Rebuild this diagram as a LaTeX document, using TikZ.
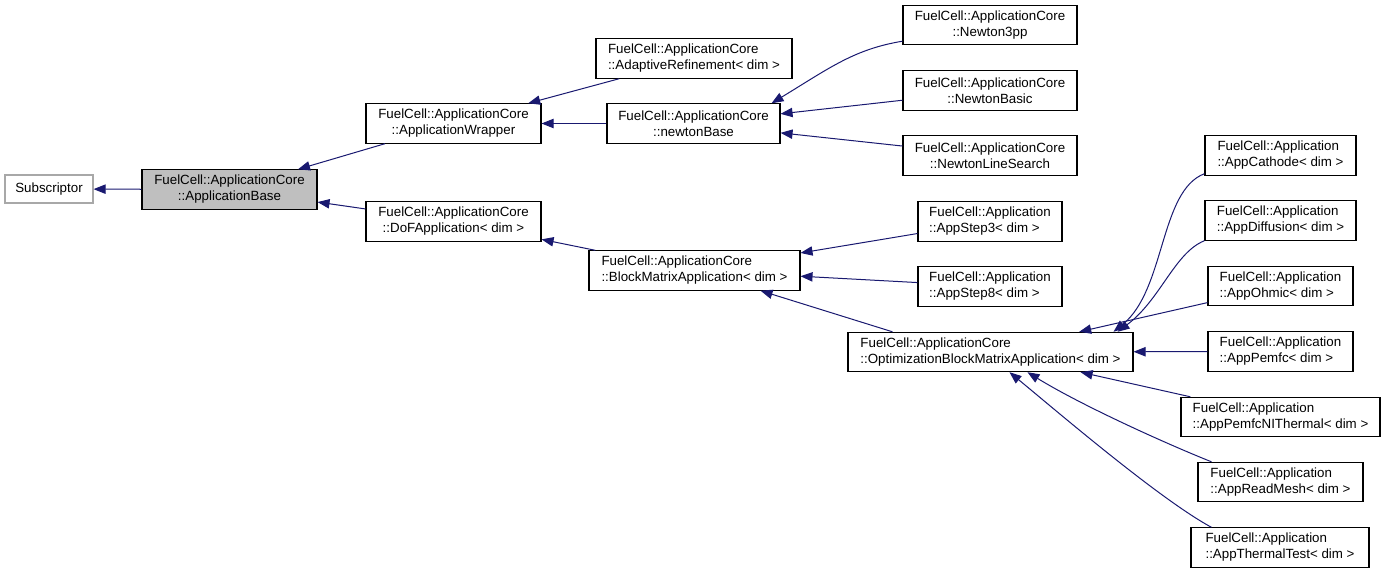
\documentclass[tikz,border=0pt]{standalone}
\usepackage{fontspec}
\setmainfont{Liberation Sans}
\usepackage{xcolor}
\usetikzlibrary{arrows.meta, calc}
\definecolor{freccia}{HTML}{191970}
\definecolor{grigio}{HTML}{BFBFBF}
\definecolor{bordo}{HTML}{A8A8A8}

\begin{document}
\begin{tikzpicture}[x=0.75pt, y=-0.75pt,
    classe/.style = {draw, line width=0.8pt, minimum height=29.5pt, inner sep=2pt, align=center, font=\fontsize{10}{12}\selectfont},
    eredita/.style = {draw=freccia, line width=0.75pt, -{Triangle[length=9pt, width=7pt]}}]
    \useasboundingbox (0,0) rectangle (1387,573);
    % Nodi
    \node[classe, draw=bordo, minimum width=66pt, minimum height=21pt] (subs) at (49,189) {Subscriptor};
    \node[classe, fill=grigio, minimum width=131.25pt] (base) at (229.5,189.5) {FuelCell::ApplicationCore\\::ApplicationBase};
    \node[classe, minimum width=131.25pt] (wrap) at (453.5,123.5) {FuelCell::ApplicationCore\\::ApplicationWrapper};
    \node[classe, minimum width=131.25pt] (dof) at (453.5,221.5) {FuelCell::ApplicationCore\\::DoFApplication< dim >};
    \node[classe, align=left, minimum width=147pt] (adapt) at (694,58.5) {FuelCell::ApplicationCore\\::AdaptiveRefinement< dim >};
    \node[classe, minimum width=129.75pt] (nbase) at (693.5,123.5) {FuelCell::ApplicationCore\\::newtonBase};
    \node[classe, minimum width=130.5pt] (n3pp) at (990,25) {FuelCell::ApplicationCore\\::Newton3pp};
    \node[classe, minimum width=130.5pt] (nbasic) at (990,90.5) {FuelCell::ApplicationCore\\::NewtonBasic};
    \node[classe, minimum width=130.5pt] (nls) at (990,155.5) {FuelCell::ApplicationCore\\::NewtonLineSearch};
    \node[classe, align=left, minimum width=158.25pt] (block) at (694.5,270.5) {FuelCell::ApplicationCore\\::BlockMatrixApplication< dim >};
    \node[classe, align=left, minimum width=108pt] (step3) at (990,221.5) {FuelCell::Application\\::AppStep3< dim >};
    \node[classe, align=left, minimum width=108pt] (step8) at (990,286.5) {FuelCell::Application\\::AppStep8< dim >};
    \node[classe, align=left, minimum width=213.75pt] (opt) at (990.5,352) {FuelCell::ApplicationCore\\::OptimizationBlockMatrixApplication< dim >};
    \node[classe, align=left, minimum width=113.25pt] (cathode) at (1280.5,155.5) {FuelCell::Application\\::AppCathode< dim >};
    \node[classe, align=left, minimum width=113.25pt] (diff) at (1280.5,220.5) {FuelCell::Application\\::AppDiffusion< dim >};
    \node[classe, align=left, minimum width=108.75pt] (ohmic) at (1280.5,286) {FuelCell::Application\\::AppOhmic< dim >};
    \node[classe, align=left, minimum width=108.75pt] (pemfc) at (1280.5,351.5) {FuelCell::Application\\::AppPemfc< dim >};
    \node[classe, align=left, minimum width=149.25pt] (nithermal) at (1280.5,417) {FuelCell::Application\\::AppPemfcNIThermal< dim >};
    \node[classe, align=left, minimum width=123.75pt] (readmesh) at (1280.5,482) {FuelCell::Application\\::AppReadMesh< dim >};
    \node[classe, align=left, minimum width=133.5pt] (thermal) at (1280,547.5) {FuelCell::Application\\::AppThermalTest< dim >};
    % Ereditarieta
    \draw[eredita] (base) -- (subs);
    \draw[eredita] (wrap) -- (base);
    \draw[eredita] (dof) -- (base);
    \draw[eredita] (adapt) -- (wrap);
    \draw[eredita] (nbase) -- (wrap);
    \draw[eredita] ($(n3pp.south west)+(0,-4)$) .. controls +(-48,8) and +(59,-36) .. ($(nbase.north east)+(-9,0)$);
    \draw[eredita] (nbasic) -- (nbase);
    \draw[eredita] (nls) -- (nbase);
    \draw[eredita] (block) -- (dof);
    \draw[eredita] (step3) -- (block);
    \draw[eredita] (step8) -- (block);
    \draw[eredita] ($(opt.north west)+(45,0)$) -- ($(block.south east)+(-40,0)$);
    \draw[eredita] ($(cathode.south west)+(0,-2)$) .. controls +(-45,17) and +(52,-42) .. ($(opt.north east)+(-20,0)$);
    \draw[eredita] (diff.south west) .. controls +(-30,12) and +(43,-32) .. ($(opt.north east)+(-16,0)$);
    \draw[eredita] (ohmic) -- (opt);
    \draw[eredita] (pemfc) -- (opt);
    \draw[eredita] (nithermal) -- (opt);
    \draw[eredita] ($(readmesh.north west)+(14,0)$) .. controls +(-50,-20) and +(52,32) .. ($(opt.south west)+(180,0)$);
    \draw[eredita] ($(thermal.north west)+(21,0)$) .. controls +(-52,-28) and +(45,37) .. ($(opt.south west)+(162,0)$);
\end{tikzpicture}
\end{document}
